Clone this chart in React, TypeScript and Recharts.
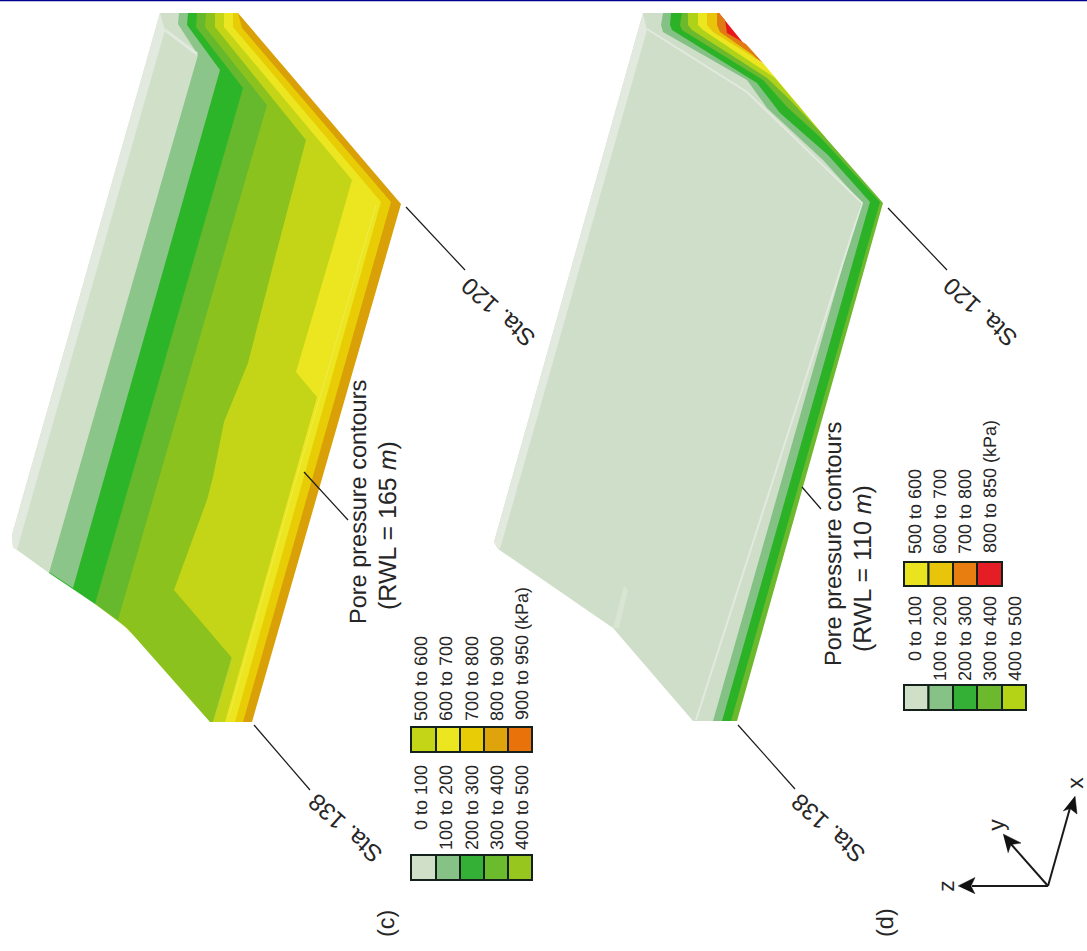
import React from "react";
import { ScatterChart, Scatter, XAxis, YAxis, ReferenceArea, ReferenceDot, ReferenceLine } from "recharts";

type P = [number, number];
const rev = (a: P[]): P[] => [...a].reverse();

// ---- panel (c): contour boundaries, RWL = 165 m
const cUpperChain: P[] = [[13, 547], [12, 535], [160, 13]];
const cOutline: P[] = [[238, 13], [401, 204], [252, 722]];
const cB8: P[] = [[238, 13], [242, 28], [391, 202], [243, 722]];
const cB7: P[] = [[233, 13], [233, 27], [381, 202], [235, 722]];
const cB6: P[] = [[224, 13], [224, 27], [352, 180], [332, 250], [296, 372], [317, 397], [225, 722]];
const cB5: P[] = [[215, 13], [215, 27], [306, 140], [277, 250], [248, 363], [224, 422], [213, 477], [207, 500], [174, 590], [232, 658], [213, 722]];
const cB4: P[] = [[206, 13], [205, 27], [267, 105], [118, 620]];
const cB3: P[] = [[197, 13], [196, 27], [243, 88], [95, 604]];
const cB2: P[] = [[188, 13], [187, 25], [220, 70], [73, 588]];
const cB1: P[] = [[179, 13], [178, 24], [198, 55], [49, 573]];
const cStrip: P[] = [[160, 13], [165, 30], [17, 550], [13, 547], [12, 535]];
const cEdgeLine: P[] = [[165, 30], [197, 54]];
const cPaleLine: P[] = [[376, 205], [290, 500], [229, 716]];
const cPaleLine2: P[] = [[232, 658], [214, 720]];

// ---- panel (d): contour boundaries, RWL = 110 m
const dB8: P[] = [[719, 13], [725, 20], [727, 33], [746, 44]];
const dB7: P[] = [[717, 13], [717, 25], [720, 32], [753, 55]];
const dB6: P[] = [[707, 13], [707, 25], [713, 32], [763, 63]];
const dB5: P[] = [[698, 13], [698, 25], [703, 30], [775, 78]];
const dB4: P[] = [[688, 13], [688, 25], [692, 30], [767, 78], [790, 100], [825, 137]];
const dB3: P[] = [[682, 13], [680, 25], [682, 30], [763, 80], [787, 107], [820, 137], [880, 202], [731, 721]];
const dB2: P[] = [[671, 13], [670, 25], [672, 30], [757, 83], [780, 113], [828, 155], [870, 202], [722, 721]];
const dB1: P[] = [[663, 13], [661, 25], [663, 32], [747, 80], [767, 108], [823, 160], [861, 202], [713, 721]];
const dLeftChain: P[] = [[693, 721], [613, 628], [498, 549], [494, 542], [643, 13]];
const dStrip: P[] = [[643, 13], [647, 30], [500, 549], [498, 549], [494, 542]];
const dEdgeLine: P[] = [[647, 29], [747, 92], [862, 203], [696, 720]];
const dCrease: P[] = [[613, 628], [619, 628], [628, 590], [624, 586]];

// ---- leader lines and axes triad
const leaders: P[][] = [
  [[406, 207], [465, 270]],
  [[254, 725], [310, 790]],
  [[304, 472], [348, 520]],
  [[888, 208], [947, 270]],
  [[738, 725], [795, 789]],
  [[802, 487], [821, 509]],
  [[1048, 886], [972, 886]],
  [[1048, 886], [1010, 843]],
  [[1048, 886], [1070, 808]],
];
const arrowHeads: P[][] = [
  [[958, 886], [975, 877.5], [971, 886], [975, 894]],
  [[1003, 834], [1021, 843], [1011, 844.5], [1008, 853]],
  [[1075, 796], [1077, 814], [1070, 808.5], [1063, 811]],
];

// ---- legends
const lowLabels = ["0 to 100", "100 to 200", "200 to 300", "300 to 400", "400 to 500"];
const cHighLabels = ["500 to 600", "600 to 700", "700 to 800", "800 to 900", "900 to 950 (kPa)"];
const dHighLabels = ["500 to 600", "600 to 700", "700 to 800", "800 to 850 (kPa)"];
const cLowColors = ["#cfdfc8", "#86c285", "#33b035", "#6cbb2d", "#97c61f"];
const cHighColors = ["#c4d518", "#ebe61f", "#e8cc06", "#dfa30b", "#e9720a"];
const dLowColors = ["#cfdfc8", "#86c285", "#33b035", "#6cb92d", "#b4d317"];
const dHighColors = ["#e9e41f", "#e8c50a", "#e87d10", "#e51e25"];
const cRowEdges = [411, 436, 460, 484, 508, 532];
const dRowEdges = [904, 928.5, 953, 977, 1002, 1026];

const C = {
  pale: "#cfdfc8", mid: "#8bc58a", green: "#2db52a", lime1: "#66b92c", lime2: "#8cc21d",
  lemon: "#c4d518", yellow: "#ebe61f", gold: "#e8cc06", amber: "#d9a008",
};

const polys: { pts: P[]; fill: string }[] = [
  { pts: [...cOutline, ...rev(cB7)], fill: C.amber },
  { pts: [...cB8, ...rev(cB6)], fill: C.gold },
  { pts: [...cB7, ...rev(cB5)], fill: C.yellow },
  { pts: [...cB6, [214, 722], [200, 700], ...rev(cB4)], fill: C.lemon },
  { pts: [...cB5, [210, 722], [127, 628], ...rev(cB3)], fill: C.lime2 },
  { pts: [...cB4, ...rev(cB2)], fill: C.lime1 },
  { pts: [...cB3, ...rev(cB1)], fill: C.green },
  { pts: [...cB2, [40, 566], [170, 13]], fill: C.mid },
  { pts: [...cB1, ...cUpperChain], fill: C.pale },
  { pts: cStrip, fill: "#e2e9de" },
  { pts: [[719, 13], ...rev(dB7)], fill: "#e8161c" },
  { pts: [...dB8, ...rev(dB6)], fill: "#e07a12" },
  { pts: [...dB7, ...rev(dB5)], fill: "#e8c50a" },
  { pts: [...dB6, ...rev(dB4)], fill: "#ebe61f" },
  { pts: [...dB5, [825, 137], ...rev(dB3.slice(0, 6))], fill: "#aed11a" },
  { pts: [...dB4, [883, 203], [737, 721], ...rev(dB2)], fill: "#6cb92d" },
  { pts: [...dB3, ...rev(dB1)], fill: "#2bb226" },
  { pts: [...dB2, [700, 721], [655, 13]], fill: "#84c184" },
  { pts: [...dB1, ...dLeftChain], fill: "#cfdec8" },
  { pts: dStrip, fill: "#e2e9de" },
  { pts: dCrease, fill: "#d9e5d3" },
];
const paleLines: { pts: P[]; color: string; w: number }[] = [
  { pts: cEdgeLine, color: "#e2e9de", w: 3 },
  { pts: cPaleLine, color: "#f0ea50", w: 1 },
  { pts: cPaleLine2, color: "#b5d23a", w: 1 },
  { pts: dEdgeLine, color: "#e2e9de", w: 2 },
];

const toXY = (pts: P[]) => pts.map(([x, y]) => ({ x, y }));
const noDot = () => <g />;
const FONT = "'Liberation Sans', Arial, sans-serif";

type Lab = { t: string; x: number; y: number; rot: number; size: number; anchor: string; it?: string };
const rowBase = [427, 452, 478, 503, 528];
const dRowBase = [921, 946, 971, 996, 1021];
const labels: Lab[] = [
  { t: "Pore pressure contours", x: 366, y: 624, rot: -90, size: 23.5, anchor: "start" },
  { t: "(RWL = 165 ", it: "m", x: 396, y: 610, rot: -90, size: 25, anchor: "start" },
  { t: "Pore pressure contours", x: 841, y: 666, rot: -90, size: 23.5, anchor: "start" },
  { t: "(RWL = 110 ", it: "m", x: 871, y: 652, rot: -90, size: 25, anchor: "start" },
  { t: "(c)", x: 394, y: 937, rot: -90, size: 23.5, anchor: "start" },
  { t: "(d)", x: 893, y: 937, rot: -90, size: 23.5, anchor: "start" },
  { t: "Sta. 138", x: 384, y: 852, rot: -138, size: 24, anchor: "start" },
  { t: "Sta. 120", x: 537, y: 336, rot: -138, size: 24, anchor: "start" },
  { t: "Sta. 138", x: 867, y: 852, rot: -138, size: 24, anchor: "start" },
  { t: "Sta. 120", x: 1019, y: 336, rot: -138, size: 24, anchor: "start" },
  { t: "z", x: 954, y: 886, rot: -90, size: 23, anchor: "middle" },
  { t: "y", x: 1004, y: 825, rot: -90, size: 23, anchor: "middle" },
  { t: "x", x: 1083, y: 783, rot: -90, size: 23, anchor: "middle" },
  ...lowLabels.map((t, i) => ({ t, x: rowBase[i], y: 765, rot: -90, size: 18, anchor: "end" })),
  ...cHighLabels.map((t, i) => ({ t, x: rowBase[i], y: i === 4 ? 587 : 636, rot: -90, size: 18, anchor: "end" })),
  ...lowLabels.map((t, i) => ({ t, x: dRowBase[i], y: 596, rot: -90, size: 18, anchor: "end" })),
  ...dHighLabels.map((t, i) => ({ t, x: dRowBase[i], y: i === 3 ? 420 : 469, rot: -90, size: 18, anchor: "end" })),
];

const labelShape = (l: Lab) => (p: any) => (
  <text
    x={p.cx}
    y={p.cy}
    transform={`rotate(${l.rot} ${p.cx} ${p.cy})`}
    fontFamily={FONT}
    fontSize={l.size}
    textAnchor={l.anchor}
    textRendering="geometricPrecision"
    fill="#262626"
  >
    {l.t}
    {l.it ? <tspan fontStyle="italic">{l.it}</tspan> : null}
    {l.it ? ")" : null}
  </text>
);

function legend(edges: number[], y1: number, y2: number, colors: string[], key: string) {
  return colors.map((c, i) => (
    <ReferenceArea
      key={key + i}
      x1={edges[i]}
      x2={edges[i + 1]}
      y1={y1}
      y2={y2}
      fill={c}
      fillOpacity={1}
      stroke="#14201a"
      strokeWidth={2}
      ifOverflow="visible"
    />
  ));
}

export default function App() {
  return (
    <div style={{ position: "absolute", left: 0, top: 0, width: 1087, height: 951, background: "#fff" }}>
      <ScatterChart width={1087} height={951} margin={{ top: 0, right: 0, bottom: 0, left: 0 }}>
        <XAxis type="number" dataKey="x" domain={[0, 1087]} hide />
        <YAxis type="number" dataKey="y" domain={[0, 951]} reversed hide />
        <ReferenceLine y={0.6} stroke="#000090" strokeWidth={1.4} ifOverflow="visible" />
        {polys.map((p, i) => (
          <Scatter
            key={"p" + i}
            data={toXY(p.pts)}
            isAnimationActive={false}
            shape={noDot}
            lineType="joint"
            line={{ fill: p.fill, stroke: "none" }}
          />
        ))}
        {paleLines.map((p, i) => (
          <Scatter
            key={"e" + i}
            data={toXY(p.pts)}
            isAnimationActive={false}
            shape={noDot}
            lineType="joint"
            line={{ fill: "none", stroke: p.color, strokeWidth: p.w }}
          />
        ))}
        {leaders.map((p, i) => (
          <Scatter
            key={"l" + i}
            data={toXY(p)}
            isAnimationActive={false}
            shape={noDot}
            lineType="joint"
            line={{ fill: "none", stroke: "#1a1a1a", strokeWidth: i >= 6 ? 2 : 1.2 }}
          />
        ))}
        {arrowHeads.map((p, i) => (
          <Scatter
            key={"a" + i}
            data={toXY(p)}
            isAnimationActive={false}
            shape={noDot}
            lineType="joint"
            line={{ fill: "#111", stroke: "#111", strokeWidth: 0.5 }}
          />
        ))}
        {legend(cRowEdges, 855, 880, cLowColors, "cl")}
        {legend(cRowEdges, 727, 752, cHighColors, "ch")}
        {legend(dRowEdges, 685, 710, dLowColors, "dl")}
        {legend(dRowEdges.slice(0, 5), 562, 586, dHighColors, "dh")}
        {labels.map((l, i) => (
          <ReferenceDot key={"t" + i} x={l.x} y={l.y} r={0} ifOverflow="visible" shape={labelShape(l)} />
        ))}
      </ScatterChart>
    </div>
  );
}
